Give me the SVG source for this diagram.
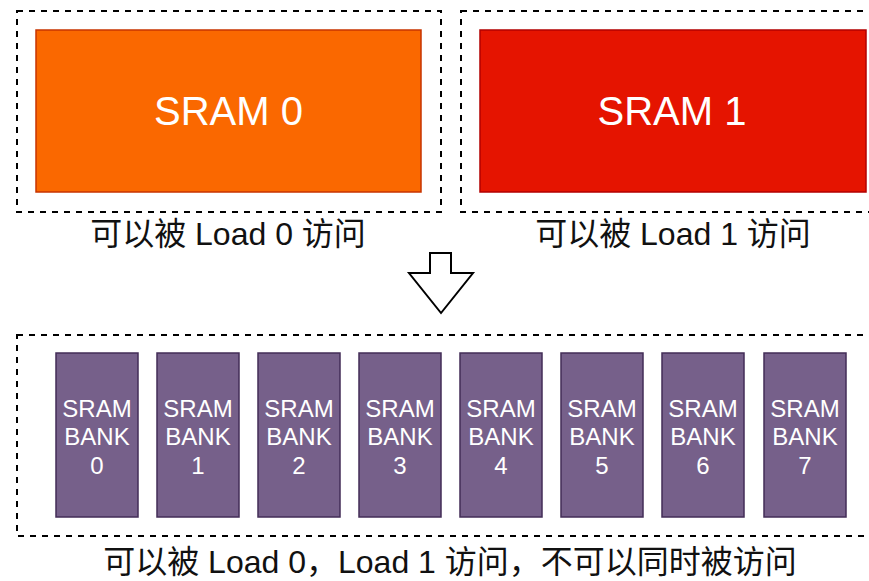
<svg xmlns="http://www.w3.org/2000/svg" width="869" height="581" viewBox="0 0 869 581">
  <style>
    .frame { fill: none; stroke: #000; stroke-width: 2; stroke-dasharray: 6 6; }
    .big { font-family: "Liberation Sans", Arial, sans-serif; font-size: 40px; fill: #fff; text-anchor: middle; }
    .bank rect { fill: #76608a; stroke: #432d57; stroke-width: 1.5; }
    .bank text { font-family: "Liberation Sans", Arial, sans-serif; font-size: 24px; fill: #fff; text-anchor: middle; }
    .cap { font-family: "Liberation Sans", "Noto Sans CJK SC", sans-serif; font-size: 32px; fill: #111; text-anchor: middle; }
  </style>
  <rect width="869" height="581" fill="#fff"/>

  <!-- SRAM 0 region -->
  <g id="sram0">
    <rect class="frame" x="17" y="11" width="424" height="201"/>
    <rect x="36" y="30" width="385" height="162" fill="#fa6800" stroke="#c73500" stroke-width="1.5"/>
    <text class="big" x="228.5" y="125">SRAM 0</text>
    <text class="cap" x="228" y="245">可以被 Load 0 访问</text>
  </g>

  <!-- SRAM 1 region -->
  <g id="sram1">
    <rect class="frame" x="461" y="11" width="424" height="201"/>
    <rect x="480" y="30" width="386" height="162" fill="#e51400" stroke="#b20000" stroke-width="1.5"/>
    <text class="big" x="672" y="125">SRAM 1</text>
    <text class="cap" x="673" y="245">可以被 Load 1 访问</text>
  </g>

  <!-- transition arrow -->
  <g id="arrow">
    <polygon points="430,253 451,253 451,273 473,273 441,313 409,273 430,273" fill="#fff" stroke="#000" stroke-width="2" stroke-linejoin="miter"/>
  </g>

  <!-- banked SRAM -->
  <g id="banks">
    <rect class="frame" x="17" y="335" width="869" height="201"/>
    <g class="bank" id="bank0"><rect x="56" y="353" width="82" height="164"/><text x="97" y="417">SRAM</text><text x="97" y="445">BANK</text><text x="97" y="474">0</text></g>
    <g class="bank" id="bank1"><rect x="157" y="353" width="82" height="164"/><text x="198" y="417">SRAM</text><text x="198" y="445">BANK</text><text x="198" y="474">1</text></g>
    <g class="bank" id="bank2"><rect x="258" y="353" width="82" height="164"/><text x="299" y="417">SRAM</text><text x="299" y="445">BANK</text><text x="299" y="474">2</text></g>
    <g class="bank" id="bank3"><rect x="359" y="353" width="82" height="164"/><text x="400" y="417">SRAM</text><text x="400" y="445">BANK</text><text x="400" y="474">3</text></g>
    <g class="bank" id="bank4"><rect x="460" y="353" width="82" height="164"/><text x="501" y="417">SRAM</text><text x="501" y="445">BANK</text><text x="501" y="474">4</text></g>
    <g class="bank" id="bank5"><rect x="561" y="353" width="82" height="164"/><text x="602" y="417">SRAM</text><text x="602" y="445">BANK</text><text x="602" y="474">5</text></g>
    <g class="bank" id="bank6"><rect x="662" y="353" width="82" height="164"/><text x="703" y="417">SRAM</text><text x="703" y="445">BANK</text><text x="703" y="474">6</text></g>
    <g class="bank" id="bank7"><rect x="764" y="353" width="82" height="164"/><text x="805" y="417">SRAM</text><text x="805" y="445">BANK</text><text x="805" y="474">7</text></g>
    <text class="cap" x="450" y="573">可以被 Load 0，Load 1 访问，不可以同时被访问</text>
  </g>

  <g id="connectors"/>
</svg>
